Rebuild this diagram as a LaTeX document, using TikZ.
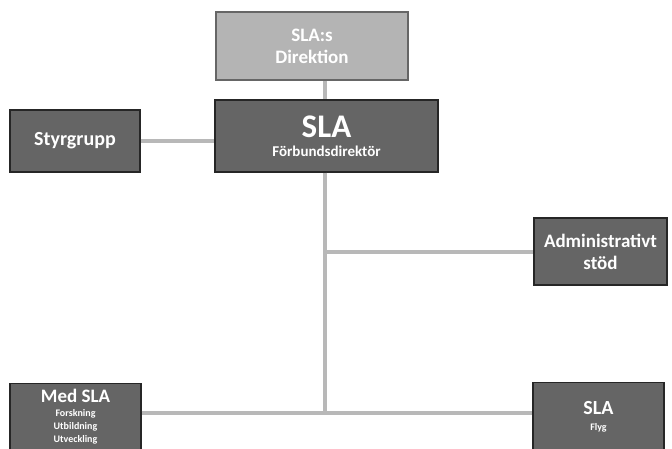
\documentclass[tikz,border=0pt]{standalone}
\usepackage{fontspec}
\setmainfont{Carlito}
\usepackage{tikz}
\usetikzlibrary{calc}

\definecolor{boxgray}{HTML}{656565}
\definecolor{lightbox}{HTML}{B4B4B4}
\definecolor{linegray}{HTML}{B8B8B8}

\newcommand{\fs}[1]{\fontsize{#1}{#1}\selectfont}

\tikzset{
  unit/.style={draw=black!85, line width=1.2pt, fill=boxgray, text=white,
    font=\bfseries, align=center, inner sep=0pt},
  board/.style={unit, draw=black!60, fill=lightbox},
  link/.style={linegray, line width=4pt}
}

\begin{document}
\begin{tikzpicture}[x=1pt, y=-1pt]
        \useasboundingbox (0,0) rectangle (672,448);
        %% boxes
        \node[board, minimum width=192pt, minimum height=68pt, font=\bfseries\fs{19}] (dir) at (312,46)
          {SLA:s\\[3pt] Direktion};
        \node[unit, minimum width=223pt, minimum height=72pt] (sla) at (326.5,136)
          {\fs{33}SLA\\[7pt] \fs{15}Förbundsdirektör};
        \node[unit, minimum width=130pt, minimum height=62pt, font=\bfseries\fs{20}] (sty) at (75,141)
          {Styrgrupp};
        \node[unit, minimum width=133pt, minimum height=67pt, font=\bfseries\fs{19}] (adm) at (600.5,251.5)
          {Administrativt\\[3pt] stöd};
        \node[unit, minimum width=131pt, minimum height=67pt, anchor=north] (med) at (75.5,383)
          {\fs{19}Med SLA\\[2pt] \fs{10}Forskning\\[1pt] \fs{10}Utbildning\\[1pt] \fs{10}Utveckling};
        \node[unit, minimum width=131pt, minimum height=68pt, anchor=north] (flyg) at (598.5,382)
          {\fs{20}SLA\\[4pt] \fs{10}Flyg};
        \coordinate (bus) at (325,413);
        %% connectors
        \draw[link] (dir.south -| bus) -- (sla.north -| bus);
        \draw[link] (sty.east) -- (sty.east -| sla.west);
        \draw[link] (sla.south -| bus) -- (bus);
        \draw[link] (adm.west -| bus) -- (adm.west);
        \draw[link] (med.east |- bus) -- (flyg.west |- bus);
      \end{tikzpicture}
\end{document}
